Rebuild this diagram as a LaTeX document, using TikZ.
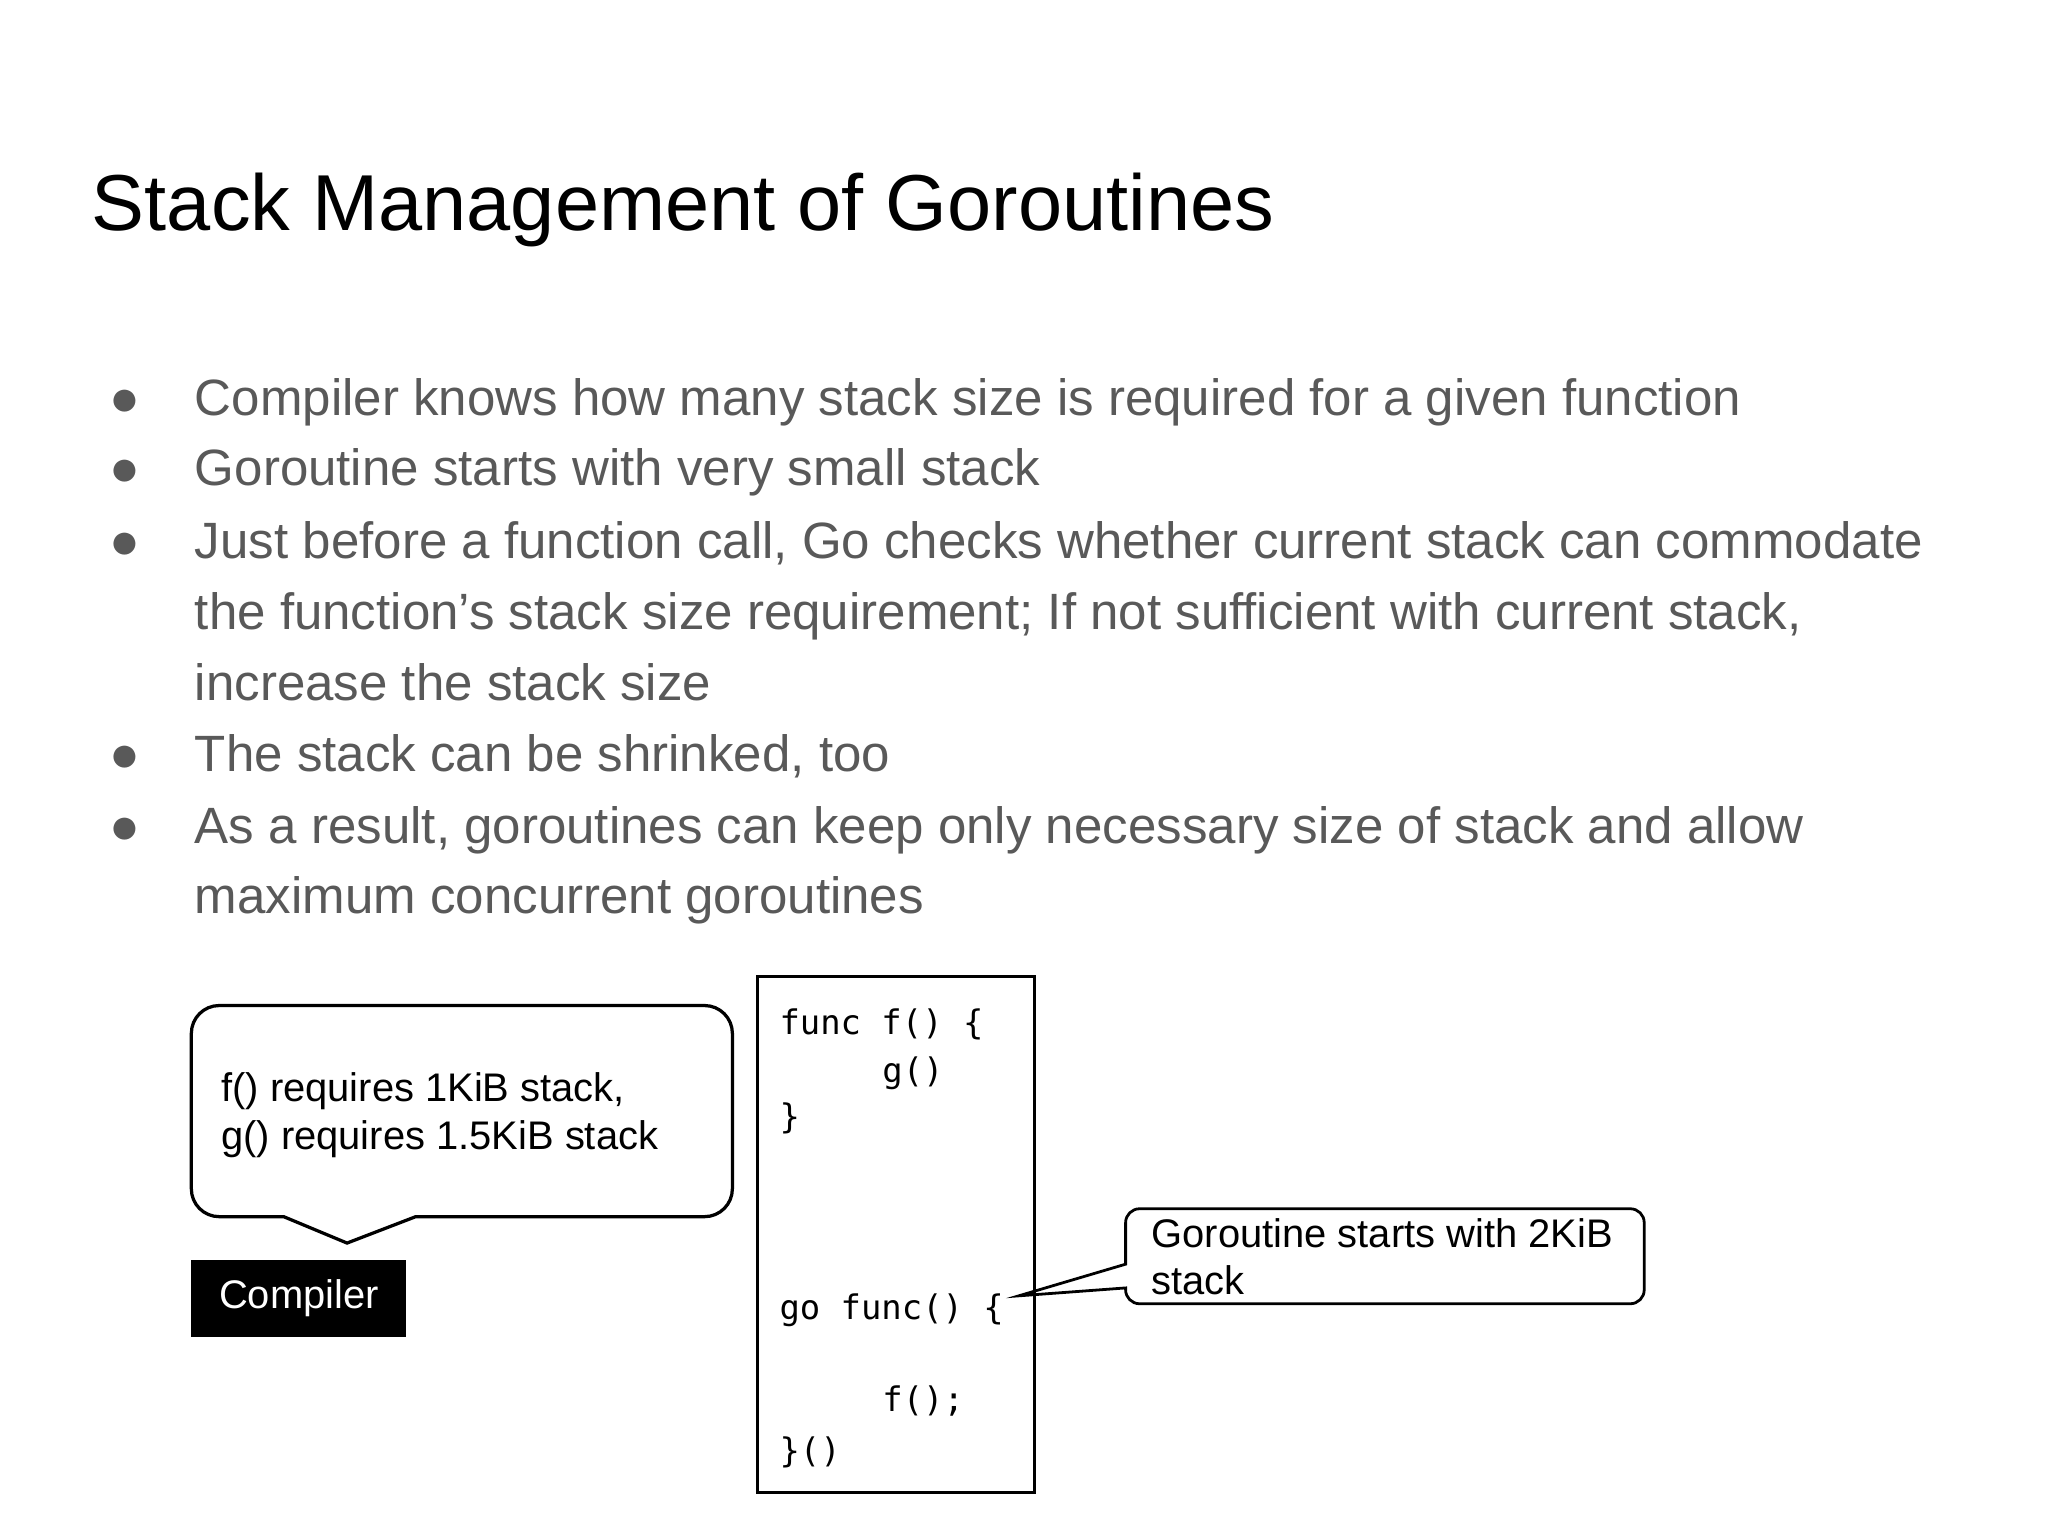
\documentclass[tikz,border=0pt]{standalone}
\usepackage{fontspec}
\setmainfont{Liberation Sans}
\setmonofont{DejaVu Sans Mono}
\begin{document}
\begin{tikzpicture}[x=0.01cm,y=-0.01cm,
  btxt/.style={anchor=base west,text=black!65,font=\fontsize{11}{14}\selectfont,inner sep=0},
  bul/.style={anchor=base,text=black!65,font=\fontsize{11}{14}\selectfont,inner sep=0},
  ctxt/.style={anchor=base west,font=\ttfamily\fontsize{7.3}{10}\selectfont,inner sep=0},
  stxt/.style={anchor=base west,font=\fontsize{8.6}{10}\selectfont,inner sep=0}]
\useasboundingbox (0,0) rectangle (1552,1164);
\fill[white] (0,0) rectangle (1552,1164);
\node[anchor=base west,inner sep=0,font=\fontsize{17.1}{20}\selectfont] (title) at (69,175) {Stack Management of Goroutines};
\foreach \y/\t [count=\i] in {315/Compiler knows how many stack size is required for a given function,
 368/Goroutine starts with very small stack,
 423/{Just before a function call, Go checks whether current stack can commodate},
 477/{the function’s stack size requirement; If not sufficient with current stack,},
 531/increase the stack size,
 585/{The stack can be shrinked, too},
 639/{As a result, goroutines can keep only necessary size of stack and allow},
 692/maximum concurrent goroutines}
  \node[btxt] (t\i) at (147,\y) {\t};
\foreach \y [count=\i] in {315,368,423,585,639}
  \node[bul] (b\i) at (95,\y) {●};
% left callout
\draw[line width=0.7pt] (263,942) -- (315,922) [rounded corners=6pt] -- (555,922) -- (555,762) -- (145,762) -- (145,922) [sharp corners] -- (215,922) -- cycle;
\node[stxt] (c1) at (167,835) {f() requires 1KiB stack,};
\node[stxt] (c2) at (167,871) {g() requires 1.5KiB stack};
\node[fill=black,text=white,minimum width=163*0.01cm,minimum height=58*0.01cm,inner sep=0,font=\fontsize{8.6}{10}\selectfont] (comp) at (226.5,984) {Compiler};
% code box
\node[draw,line width=0.6pt,minimum width=210*0.01cm,minimum height=391*0.01cm,inner sep=0] (code) at (679,935.5) {};
\node[ctxt] (l1) at (590,784) {func f() \{};
\node[ctxt] (l2) at (668,820) {g()};
\node[ctxt] (l3) at (590,855) {\}};
\node[ctxt] (l4) at (590,1000) {go func() \{};
\node[ctxt] (l5) at (668,1070) {f();};
\node[ctxt] (l6) at (590,1108) {\}()};
% right callout
\coordinate (tip) at (772,982);
\draw[line width=0.6pt] (tip) -- (853,958) [rounded corners=3pt] -- (853,916) -- (1246,916) -- (1246,988) -- (853,988) [sharp corners] -- (853,976) -- cycle;
\node[stxt] (r1) at (872,945) {Goroutine starts with 2KiB};
\node[stxt] (r2) at (872,981) {stack};
\end{tikzpicture}
\end{document}
